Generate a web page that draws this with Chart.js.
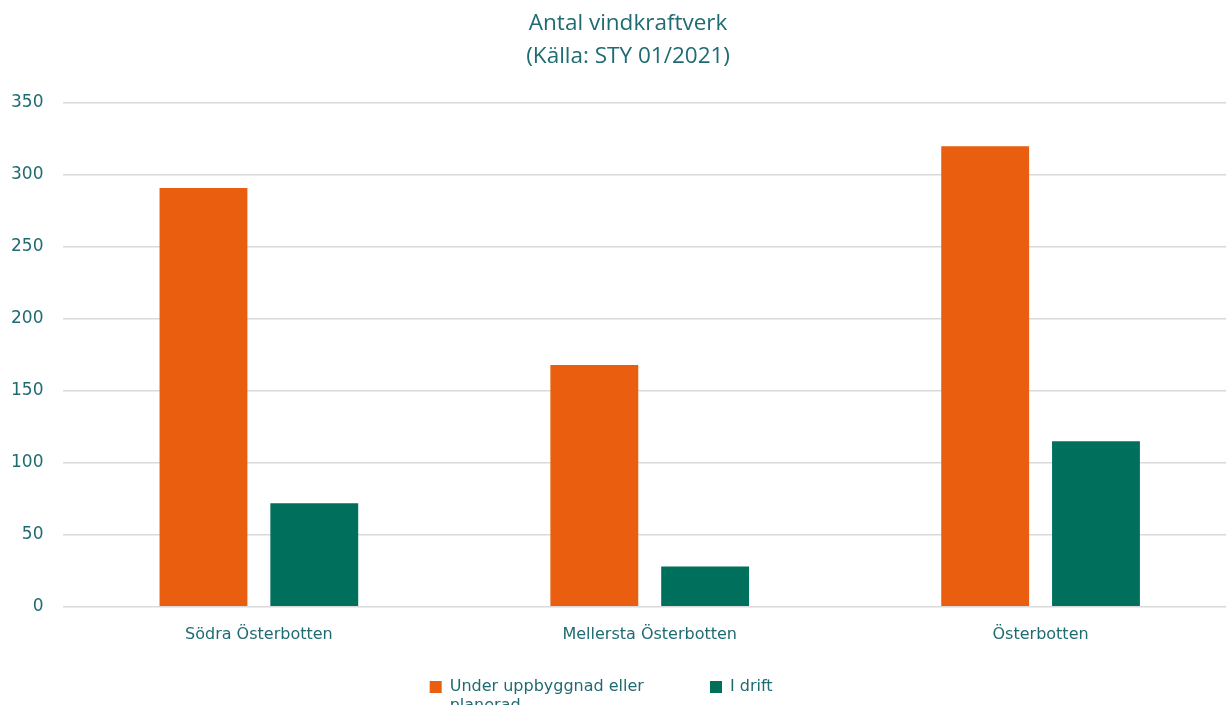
<!DOCTYPE html>
<html lang="sv">
<head>
    <meta charset="UTF-8">
    <title>Antal vindkraftverk</title>
    <style>
        html, body { margin: 0; padding: 0; background: #fff; overflow: hidden; }
        /* the original plot runs a little past the right edge of the screenshot */
        .chart-container { width: 1236px; height: 708px; }
    </style>
    <script src="https://cdn.jsdelivr.net/npm/chart.js"></script>
</head>
<body>
    <div class="chart-container">
        <canvas id="barChart"></canvas>
    </div>

    <script>
        // Data
        const regions = ['Södra Österbotten', 'Mellersta Österbotten', 'Österbotten'];
        const planned = [291, 168, 320];
        const inOperation = [72, 28, 115];
        const seriesNames = ['Under uppbyggnad eller planerad', 'I drift'];
        const yTicks = [0, 50, 100, 150, 200, 250, 300, 350];

        const textColor = '#1f6b72';
        const orange = '#e95e0f';
        const green = '#00705c';

        // legend text wraps like the original; measured widths tuned to the original spacing
        function legendText(text) {
            if (text.length > 25) {
                const lines = ['Under uppbyggnad eller', 'planerad'];
                lines.toString = () => text.slice(0, 29);
                return lines;
            }
            const single = [text];
            single.toString = () => text + 'nni';
            return single;
        }

        const ctx = document.getElementById('barChart').getContext('2d');

        new Chart(ctx, {
            type: 'bar',
            data: {
                labels: regions,
                datasets: [{
                    label: seriesNames[0],
                    data: planned,
                    backgroundColor: orange
                }, {
                    label: seriesNames[1],
                    data: inOperation,
                    backgroundColor: green
                }]
            },
            options: {
                responsive: true,
                maintainAspectRatio: false,
                animation: false,
                categoryPercentage: 0.567,
                barPercentage: 0.793,
                layout: { padding: { left: -9, right: 0, top: 0, bottom: 3 } },
                plugins: {
                    title: {
                        display: true,
                        text: ['     Antal vindkraftverk', '     (Källa: STY 01/2021)'],
                        color: textColor,
                        font: { family: 'Open Sans', size: 22.5, weight: 'normal', lineHeight: 1.467 },
                        padding: { top: 7, bottom: 30 }
                    },
                    legend: {
                        position: 'bottom',
                        labels: {
                            color: textColor,
                            font: { family: 'DejaVu Sans', size: 16 },
                            boxWidth: 12,
                            boxHeight: 12,
                            padding: 10,
                            generateLabels(chart) {
                                return chart.data.datasets.map((ds, i) => ({
                                    text: legendText(ds.label),
                                    fillStyle: ds.backgroundColor,
                                    strokeStyle: ds.backgroundColor,
                                    lineWidth: 0,
                                    fontColor: textColor,
                                    hidden: false,
                                    datasetIndex: i
                                }));
                            }
                        }
                    },
                    tooltip: { enabled: false }
                },
                scales: {
                    x: {
                        grid: { display: false, drawTicks: false },
                        border: { display: false },
                        afterFit(axis) { axis.height += 7; },
                        ticks: {
                            color: textColor,
                            font: { family: 'DejaVu Sans', size: 16 },
                            padding: 18
                        }
                    },
                    y: {
                        min: yTicks[0],
                        max: yTicks[yTicks.length - 1],
                        afterBuildTicks(axis) {
                            axis.ticks = yTicks.map(v => ({ value: v }));
                        },
                        grid: { color: '#d9d9d9', lineWidth: 1.5, drawTicks: false },
                        border: { display: false },
                        ticks: {
                            color: textColor,
                            font: { family: 'DejaVu Sans', size: 17 },
                            padding: 20
                        }
                    }
                }
            }
        });
    </script>
</body>
</html>
